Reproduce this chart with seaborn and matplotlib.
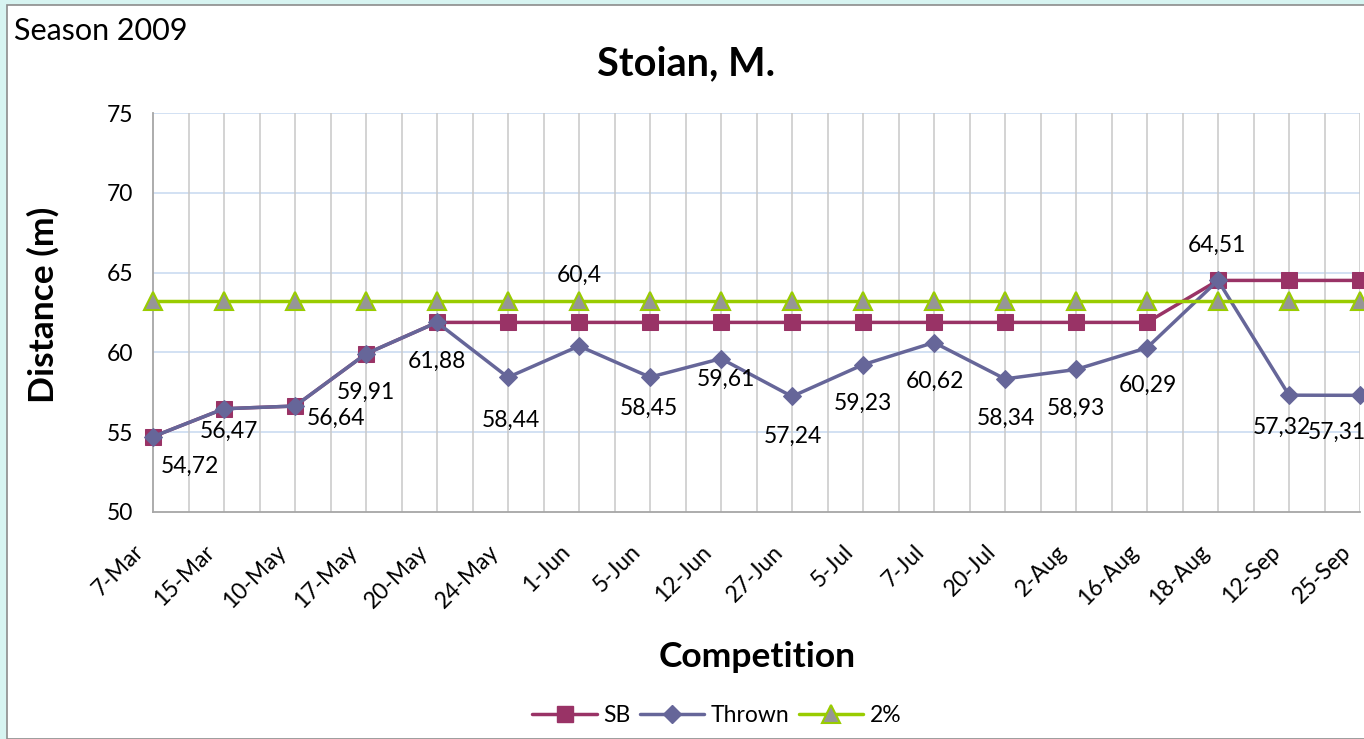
import numpy as np
import pandas as pd
import matplotlib
matplotlib.use("Agg")
import matplotlib.pyplot as plt
from matplotlib.patches import Rectangle
from matplotlib.lines import Line2D
from matplotlib.transforms import ScaledTranslation
import seaborn as sns

# Competition dates of the 2009 season
competitions = ["7-Mar", "15-Mar", "10-May", "17-May", "20-May", "24-May", "1-Jun",
                "5-Jun", "12-Jun", "27-Jun", "5-Jul", "7-Jul", "20-Jul", "2-Aug",
                "16-Aug", "18-Aug", "12-Sep", "25-Sep"]

# Distance thrown at each competition (m)
thrown = [54.72, 56.47, 56.64, 59.91, 61.88, 58.44, 60.40, 58.45, 59.61, 57.24,
          59.23, 60.62, 58.34, 58.93, 60.29, 64.51, 57.32, 57.31]

# Season best after each competition (m)
season_best = [54.72, 56.47, 56.64, 59.91, 61.88, 61.88, 61.88, 61.88, 61.88, 61.88,
               61.88, 61.88, 61.88, 61.88, 61.88, 64.51, 64.51, 64.51]

# 2% below the final season best (m)
two_percent = [63.22] * len(competitions)

y_ticks = [50, 55, 60, 65, 70, 75]

# Data label placement, in pixels relative to each Thrown point
label_offsets = [(37, -30), (5, -23), (41, -12), (0, -39), (0, -39), (3, -43),
                 (0, 71), (-1, -31), (5, -21), (1, -40), (0, -39), (1, -39),
                 (1, -39), (0, -39), (1, -38), (-1, 35), (-7, -32), (-23, -37)]

FONT = "Lato"
sns.set_theme(style="white")
plt.rcParams["font.family"] = [FONT, "DejaVu Sans"]
plt.rcParams["text.color"] = "black"
plt.rcParams["axes.labelcolor"] = "black"
plt.rcParams["xtick.color"] = "black"
plt.rcParams["ytick.color"] = "black"

W, H = 1364, 739
fig = plt.figure(figsize=(W / 100, H / 100), dpi=100, facecolor="#d7f4f1")

# White chart area with a thin grey frame
fig.patches.append(Rectangle((7 / W, 0), 1.0, 1 - 5 / H, transform=fig.transFigure,
                             facecolor="white", edgecolor="#8c8c8c", linewidth=1.2,
                             zorder=-10))

ax = fig.add_axes([153 / W, 1 - 512 / H, (1360 - 153) / W, (512 - 113) / H])
ax.set_facecolor("none")

x = np.arange(len(competitions))
df = pd.DataFrame({"pos": x, "SB": season_best, "Thrown": thrown, "2%": two_percent})

sb_color = "#993366"
thr_color = "#666699"
pct_color = "#99cc00"
LW = 2.5

sns.lineplot(data=df, x="pos", y="SB", ax=ax, color=sb_color, linewidth=LW,
             marker="s", markersize=11, markerfacecolor=sb_color,
             markeredgecolor=sb_color, clip_on=False, zorder=3)
sns.lineplot(data=df, x="pos", y="Thrown", ax=ax, color=thr_color, linewidth=LW,
             marker="D", markersize=9.5, markerfacecolor=thr_color,
             markeredgecolor=thr_color, clip_on=False, zorder=4)
sns.lineplot(data=df, x="pos", y="2%", ax=ax, color=pct_color, linewidth=LW,
             marker="^", markersize=12.5, markerfacecolor="#969696",
             markeredgecolor=pct_color, markeredgewidth=1.5, clip_on=False, zorder=5)

ax.set_xlim(0, len(competitions) - 1)
ax.set_ylim(50, 75)
ax.set_yticks(y_ticks)
ax.set_yticklabels([str(v) for v in y_ticks], fontsize=16.5)
ax.set_xticks(x)
ax.set_xticklabels(competitions, rotation=45, ha="right", va="top",
                   rotation_mode="anchor", fontsize=16.5)
ax.tick_params(axis="both", length=0, which="both")
ax.tick_params(axis="y", pad=14)
ax.tick_params(axis="x", pad=21)
shift = ScaledTranslation(-20 / 100, 0, fig.dpi_scale_trans)
for lab in ax.get_xticklabels():
    lab.set_transform(lab.get_transform() + shift)

# Gridlines: light blue horizontals, grey verticals at and between categories
for v in y_ticks[1:]:
    ax.axhline(v, color="#c6d9f0", linewidth=1.1, zorder=1)
for v in np.arange(0.5, len(competitions) - 1 + 0.01, 0.5):
    ax.axvline(v, color="#c8c8c8", linewidth=1.1, zorder=1)

for side in ["top", "right"]:
    ax.spines[side].set_visible(False)
for side in ["left", "bottom"]:
    ax.spines[side].set_color("#a6a6a6")
    ax.spines[side].set_linewidth(1.3)
    ax.spines[side].set_zorder(2)

# Value labels on the Thrown series
for xi, val, (dx, dy) in zip(x, thrown, label_offsets):
    txt = f"{val:.2f}".rstrip("0").rstrip(".").replace(".", ",")
    ax.annotate(txt, (xi, val), xytext=(dx, dy), textcoords="offset pixels",
                ha="center", va="center", fontsize=16.5, color="black",
                annotation_clip=False, zorder=6)

ax.set_xlabel("Competition", fontsize=25.5, fontweight="bold")
ax.set_ylabel("Distance (m)", fontsize=25.5, fontweight="bold")
ax.xaxis.set_label_coords((757 - 153) / (1360 - 153), -(657 - 512) / (512 - 113))
ax.yaxis.set_label_coords(-(153 - 43) / (1360 - 153), (512 - 305) / (512 - 113))
ax.xaxis.label.set_va("center")
ax.yaxis.label.set_va("center")

fig.text(686 / W, 1 - 64 / H, "Stoian, M.", ha="center", va="center",
         fontsize=28.5, fontweight="bold")
fig.text(14 / W, 1 - 31 / H, "Season 2009", ha="left", va="center", fontsize=22)

handles = [
    Line2D([], [], color=sb_color, linewidth=LW, marker="s", markersize=11),
    Line2D([], [], color=thr_color, linewidth=LW, marker="D", markersize=9.5),
    Line2D([], [], color=pct_color, linewidth=LW, marker="^", markersize=12.5,
           markerfacecolor="#969696", markeredgecolor=pct_color, markeredgewidth=1.5),
]
fig.legend(handles, ["SB", "Thrown", "2%"], loc="center", ncol=3,
           bbox_to_anchor=(717 / W, 1 - 716 / H), frameon=False, fontsize=16.5,
           handlelength=2.8, handletextpad=0.3, columnspacing=0.4)

fig.savefig("out.png", dpi=100, facecolor=fig.get_facecolor())
